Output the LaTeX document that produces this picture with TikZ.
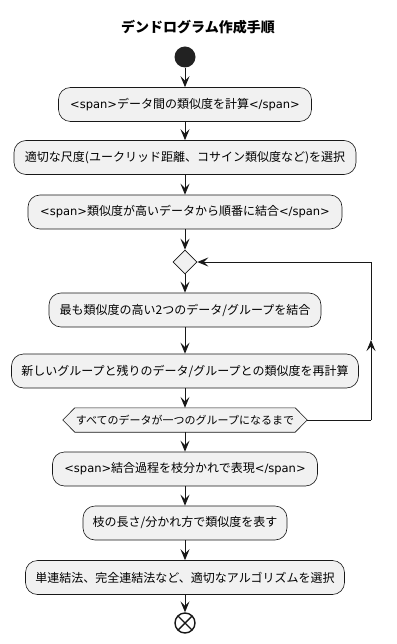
\documentclass[tikz,border=0pt]{standalone}
\usepackage{fontspec}
\setmainfont{Noto Sans CJK JP}
\newfontfamily\latf{DejaVu Sans}
\newcommand{\lt}[1]{{\latf\fontsize{11.5}{14}\selectfont #1}}
\usetikzlibrary{arrows.meta,shapes.geometric,calc}
\definecolor{boxf}{HTML}{F1F1F1}
\definecolor{linec}{HTML}{181818}
\definecolor{startc}{HTML}{222222}
\begin{document}
\begin{tikzpicture}[x=1pt,y=-1pt,
  act/.style={draw=linec, fill=boxf, rounded corners=12pt, minimum height=34pt, inner xsep=6pt, inner ysep=0pt, font=\fontsize{12}{14}\selectfont, line width=0.6pt},
  flow/.style={draw=linec, line width=0.9pt, -{Stealth[length=11pt,width=9pt,inset=4.5pt]}},
  plain/.style={draw=linec, line width=0.9pt},
  hexlbl/.style={minimum width=244pt, minimum height=24pt, inner sep=0pt, font=\fontsize{11}{13}\selectfont},
]
\useasboundingbox (0,0) rectangle (396,644);
\node[font=\bfseries\fontsize{14}{16}\selectfont] (title) at (198,27) {デンドログラム作成手順};
\node[circle, fill=startc, minimum size=21pt, inner sep=0pt] (start) at (185,57) {};
\node[act, minimum width=253pt] (b1) at (185,104.5) {\lt{<span>}データ間の類似度を計算\lt{</span>}};
\node[act, minimum width=342pt] (b2) at (185,157.5) {適切な尺度(ユークリッド距離、コサイン類似度など)を選択};
\node[act, minimum width=314pt] (b3) at (185,212) {\lt{<span>}類似度が高いデータから順番に結合\lt{</span>}};
\node[diamond, draw=linec, fill=boxf, line width=0.6pt, minimum width=24pt, minimum height=24pt, inner sep=0pt] (d) at (185,262) {};
\node[act, minimum width=272pt] (b4) at (185,310) {最も類似度の高い2つのデータ/グループを結合};
\node[act, minimum width=347pt] (b5) at (185,371) {新しいグループと残りのデータ/グループとの類似度を再計算};
\node[hexlbl] (hex) at (185,420) {};
\draw[linec, fill=boxf, line width=0.6pt] (hex.west) -- ($(hex.north west)+(12,0)$) -- ($(hex.north east)+(-12,0)$) -- (hex.east) -- ($(hex.south east)+(-12,0)$) -- ($(hex.south west)+(12,0)$) -- cycle;
\node[hexlbl] (hext) at (hex) {すべてのデータが一つのグループになるまで};
\node[act, minimum width=265pt] (b6) at (185,469) {\lt{<span>}結合過程を枝分かれで表現\lt{</span>}};
\node[act, minimum width=204pt] (b7) at (185,523) {枝の長さ/分かれ方で類似度を表す};
\node[act, minimum width=319pt] (b8) at (185,577.5) {単連結法、完全連結法など、適切なアルゴリズムを選択};
\node[circle, draw=linec, fill=white, line width=1.4pt, minimum size=20pt, inner sep=0pt] (end) at (185,623) {};
\draw[linec, line width=1.4pt] ($(end.center)+(-7,-7)$) -- ($(end.center)+(7,7)$);
\draw[linec, line width=1.4pt] ($(end.center)+(-7,7)$) -- ($(end.center)+(7,-7)$);

\draw[flow] (start) -- (b1);
\draw[flow] (b1) -- (b2);
\draw[flow] (b2) -- (b3);
\draw[flow] (b3) -- (d.north);
\draw[flow] (d.south) -- (b4);
\draw[flow] (b4) -- (b5);
\draw[flow] (b5) -- (hex.north);
\draw[flow] (hex.south) -- (b6);
\draw[flow] (b6) -- (b7);
\draw[flow] (b7) -- (b8);
\draw[flow] (b8) -- (end);

\coordinate (lb) at (371,420);
\coordinate (lm) at (371,340);
\coordinate (lt) at (371,262);
\draw[plain] (hex.east) -- (lb);
\draw[flow] (lb) -- (lm);
\draw[flow] (lm) -- (lt) -- (d.east);
\end{tikzpicture}
\end{document}
